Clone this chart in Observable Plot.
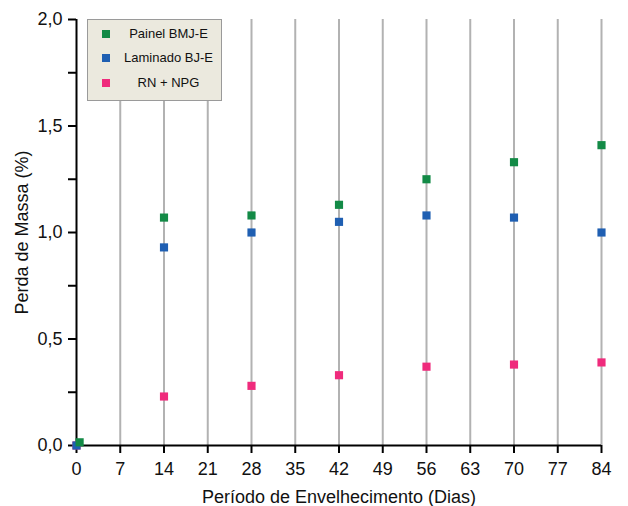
<!DOCTYPE html>
<html><head><meta charset="utf-8">
<script src="https://cdn.jsdelivr.net/npm/d3@7"></script>
<script src="https://cdn.jsdelivr.net/npm/@observablehq/plot@0.6"></script>
<style>
body{margin:0;background:#fff;font-family:"Liberation Sans",Arial,sans-serif;}
#wrap{position:relative;width:628px;height:506px;}
#legend{position:absolute;left:87px;top:19px;width:135px;height:82px;background:#ebe9de;border:1px solid #9a9a9a;box-sizing:border-box;font-size:13px;color:#111;}
.row{position:absolute;left:0;width:133px;height:18px;line-height:18px;}
.sw{position:absolute;left:14px;top:5px;width:8px;height:8px;}
.lb{position:absolute;left:30px;right:2px;top:0;text-align:center;}
</style></head>
<body><div id="wrap"></div>
<script>
const days = [0, 14, 28, 42, 56, 70, 84];
const seriesNames = ["Painel BMJ-E", "Laminado BJ-E", "RN + NPG"];
const seriesColors = ["#138a46", "#1f5fb2", "#ef2b7c"];
const painel = [0.015, 1.07, 1.08, 1.13, 1.25, 1.33, 1.41];
const laminado = [0, 0.93, 1.00, 1.05, 1.08, 1.07, 1.00];
const rnNpg = [0, 0.23, 0.28, 0.33, 0.37, 0.38, 0.39];
const dayOffset = [0.5, 0, 0]; // small horizontal offset of the day-0 green point
const xTicks = [0, 7, 14, 21, 28, 35, 42, 49, 56, 63, 70, 77, 84];
const yTicks = [0, 0.25, 0.5, 0.75, 1, 1.25, 1.5, 1.75, 2];

const vals = [painel, laminado, rnNpg];
const data = [];
[2, 1, 0].forEach(s => {
  days.forEach((d, i) => data.push({day: d === 0 ? d + dayOffset[s] : d, v: vals[s][i], s: seriesNames[s]}));
});

const fmt = d => (Math.abs(d * 2 - Math.round(d * 2)) < 1e-9) ? d.toFixed(1).replace(".", ",") : "";

const chart = Plot.plot({
  width: 628, height: 506,
  marginLeft: 76, marginRight: 27, marginTop: 19, marginBottom: 61,
  style: {fontFamily: '"Liberation Sans", Arial, sans-serif', fontSize: "18px", color: "#111", background: "#fff"},
  x: {domain: [0, 84]},
  y: {domain: [0, 2]},
  color: {domain: seriesNames, range: seriesColors},
  marks: [
    Plot.ruleX(xTicks.filter(d => d > 0), {stroke: "#b2b2b2", strokeWidth: 2}),
    Plot.axisX({ticks: xTicks, tickSize: 8, tickPadding: 9, strokeWidth: 2, stroke: "#000", fill: "#111", label: "Período de Envelhecimento (Dias)", labelAnchor: "center", labelOffset: 57, labelArrow: "none"}),
    Plot.axisY({ticks: yTicks, tickSize: 8, tickPadding: 6, strokeWidth: 2, stroke: "#000", fill: "#111", tickFormat: fmt, label: "Perda de Massa (%)", labelAnchor: "center", labelOffset: 61, labelArrow: "none"}),
    Plot.ruleX([0], {stroke: "#000", strokeWidth: 2}),
    Plot.ruleY([0], {stroke: "#000", strokeWidth: 2}),
    Plot.dot(data, {x: "day", y: "v", fill: "s", symbol: "square", r: 4.6, stroke: "none"})
  ]
});
document.getElementById("wrap").appendChild(chart);

const leg = document.createElement("div");
leg.id = "legend";
const rowTops = [5, 29, 54];
seriesNames.forEach((n, i) => {
  const r = document.createElement("div");
  r.className = "row"; r.style.top = rowTops[i] + "px";
  r.innerHTML = `<div class="sw" style="background:${seriesColors[i]}"></div><div class="lb">${n}</div>`;
  leg.appendChild(r);
});
document.getElementById("wrap").appendChild(leg);
</script></body></html>
